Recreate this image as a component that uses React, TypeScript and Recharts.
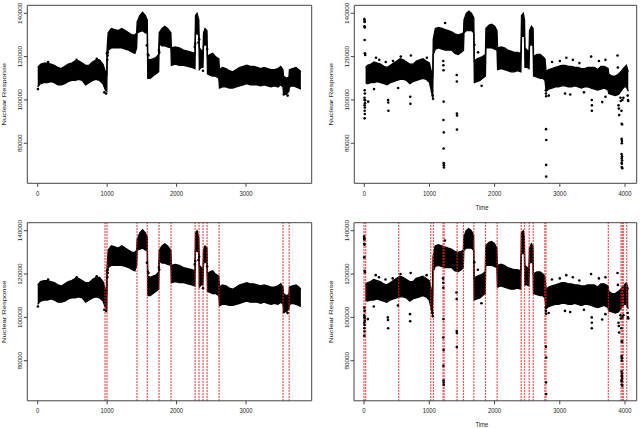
import React from 'react';
import { ComposedChart, Area, Scatter, XAxis, YAxis, ReferenceLine } from 'recharts';

// ---------- Left series (panels 1 and 3) ----------
const leftBandTime = [0, 40, 90, 140, 190, 240, 290, 340, 390, 440, 490, 540, 590, 640, 690, 740, 790, 840, 890, 940, 975, 995,
  1000, 1015, 1060, 1110, 1160, 1210, 1260, 1310, 1360, 1400, 1425,
  1432, 1470, 1510, 1550, 1578,
  1585, 1620, 1660, 1700, 1742,
  1750, 1790, 1830, 1870, 1918,
  1925, 1980, 2040, 2100, 2160, 2220, 2265,
  2272, 2295, 2320,
  2328, 2355, 2380,
  2388, 2410, 2438,
  2445, 2480, 2520, 2560, 2608,
  2618, 2660, 2710, 2760, 2810, 2860, 2910, 2960, 3010, 3060, 3110, 3160, 3210, 3260, 3310, 3360, 3410, 3460, 3500, 3532,
  3540, 3580, 3618,
  3625, 3670, 3720, 3760, 3790];
const leftBandLow = [106000, 107500, 108000, 108000, 108500, 108000, 107000, 107000, 107500, 108500, 109000, 109000, 109500, 109000, 107000, 108000, 109000, 109500, 109000, 107500, 104500, 104000,
  120000, 123000, 124000, 124000, 124000, 124000, 123500, 123000, 122000, 121500, 124000,
  131000, 131500, 132000, 131000, 131000,
  110000, 110000, 111000, 112000, 113000,
  126000, 125000, 125000, 124500, 124000,
  116000, 116500, 116000, 116000, 115500, 115000, 114500,
  131000, 130500, 130000,
  114000, 115000, 115000,
  125000, 125500, 125000,
  112000, 111500, 111000, 111000, 110000,
  105500, 106000, 106000, 105500, 105500, 106000, 106500, 107000, 107500, 107000, 107000, 107000, 106500, 107000, 106500, 106000, 106500, 106000, 107000, 106000,
  103000, 102500, 104000,
  106000, 106500, 106000, 105500, 105000];
const leftBandHigh = [115000, 116500, 117000, 117000, 116500, 116000, 115000, 114500, 115500, 116500, 117000, 118000, 118000, 117000, 116000, 116000, 117500, 118500, 118500, 116500, 113000, 111000,
  124000, 131000, 133000, 132500, 132000, 133000, 132000, 131000, 130000, 130000, 131000,
  136000, 139000, 140500, 139000, 137000,
  119000, 118500, 119000, 119500, 121000,
  131000, 133000, 134000, 133000, 131000,
  124000, 124500, 124000, 123000, 122500, 122000, 121500,
  139000, 140000, 137000,
  124000, 123000, 122000,
  131000, 133000, 132000,
  120000, 121000, 121500, 120000, 119000,
  114000, 115000, 114500, 113500, 113000, 114000, 115000, 115500, 116000, 115500, 115500, 115000, 114500, 115000, 114500, 114000, 114000, 114500, 115500, 114000,
  111000, 110000, 110500,
  114000, 114500, 115000, 114000, 113000];
const leftOutTime = [3, 960, 985, 998, 1002, 1006, 1008, 1572, 1588, 1595, 1745, 1750, 2262, 2268, 2315, 2325, 2380, 2440, 3545, 3600, 150, 560, 850];
const leftOutValue = [105000, 103500, 103000, 121500, 118500, 122000, 120500, 125200, 121000, 120500, 123000, 122000, 124500, 126000, 126500, 128000, 113500, 123500, 102500, 102000, 117500, 118500, 119000];
const leftChangepoints = [969, 998, 1430, 1578, 1747, 1920, 2268, 2323, 2382, 2440, 2612, 3533, 3622];
const leftXTicks = [0, 1000, 2000, 3000];
const leftXDomain: [number, number] = [-150, 3946];

// ---------- Right series (panels 2 and 4) ----------
const rightBandTime = [20, 50, 100, 150, 200, 250, 300, 350, 400, 450, 500, 550, 600, 650, 700, 750, 800, 850, 900, 950, 1000, 1030, 1050,
  1058, 1090, 1140, 1190, 1240, 1290, 1340, 1390, 1440, 1490, 1522,
  1530, 1565, 1605, 1645, 1680,
  1688, 1730, 1775, 1815, 1858,
  1866, 1910, 1955, 2000, 2036,
  2045, 2100, 2150, 2200, 2250, 2300, 2350, 2403,
  2412, 2440, 2458,
  2465, 2500, 2528,
  2535, 2565, 2590,
  2597, 2650, 2700, 2740, 2772,
  2790, 2830, 2880, 2930, 2980, 3030, 3080, 3130, 3180, 3230, 3280, 3330, 3380, 3430, 3480, 3530, 3580, 3630, 3680, 3740,
  3750, 3800, 3850, 3900, 3935,
  3960, 3990, 4020, 4050];
const rightBandLow = [108000, 107500, 108000, 108000, 108500, 108000, 107500, 107000, 108000, 108500, 109000, 109500, 109500, 109000, 107500, 108500, 109000, 109500, 110000, 109500, 108000, 104000, 101000,
  121000, 123500, 124000, 123500, 123000, 123000, 123000, 121500, 121000, 122000, 123000,
  131000, 132000, 132000, 132000, 131000,
  108000, 108500, 109000, 110000, 111000,
  124000, 124000, 124000, 123500, 123000,
  114000, 114500, 114000, 113500, 113000, 113000, 113500, 113000,
  129000, 130000, 129000,
  115000, 115000, 114500,
  125000, 125500, 125000,
  111000, 110500, 110000, 110000, 109000,
  104000, 105000, 105500, 106000, 106000, 106500, 106500, 106000, 106000, 106500, 106000, 105500, 106000, 106000, 105500, 105000, 104500, 105000, 105500, 104500,
  103000, 102500, 102000, 102500, 104000,
  105000, 106000, 106000, 104000];
const rightBandHigh = [115000, 116000, 116500, 117500, 117000, 116500, 115500, 115000, 116000, 117000, 118000, 119000, 118500, 117500, 116500, 116500, 118000, 118500, 119000, 118000, 117000, 113000, 110000,
  128000, 133000, 133500, 133000, 132500, 132000, 131500, 130500, 130000, 130500, 131000,
  137000, 140000, 141000, 140000, 138000,
  118000, 119000, 119500, 120000, 121000,
  133000, 134500, 135000, 134000, 132000,
  124000, 124500, 124000, 123000, 122500, 122000, 122000, 121500,
  139000, 140000, 137000,
  124000, 123000, 122000,
  132000, 134000, 133000,
  120000, 121000, 121000, 120000, 119000,
  113000, 114000, 114500, 115000, 115500, 116000, 116000, 115500, 115500, 115000, 115000, 114500, 114500, 115000, 115000, 115000, 114000, 115500, 115500, 114500,
  112000, 111000, 111000, 112000, 113000,
  114000, 115000, 116000, 113000];
const rightOutTime = [2, 4, 6, 3, 8, 5, 10, 14, 6, 9, 4, 7, 11, 5, 9, 6, 8, 5, 12, 60,
  180, 230, 330, 440, 560, 715, 960, 150, 365, 368, 370, 520, 705, 708,
  1040, 1050, 1055,
  1212, 1214, 1216, 1218, 1215, 1220, 1217, 1219, 1221, 1222, 1240,
  1418, 1420, 1421, 1423, 1422,
  1690, 1745, 1800,
  2785, 2787, 2790, 2788, 2792, 2790, 2791,
  2880, 3000, 3100, 3200, 3300, 3480, 3600, 3700, 3885,
  2830, 3080, 3160, 3370, 3650, 3700,
  3490, 3492, 3491,
  3890, 3900, 3905, 3910, 3930, 3935, 3945, 3950, 3955, 3948, 3952, 3950, 3947, 3953, 3950, 3955, 3948, 3952, 3950, 3958, 3960, 3975, 3990,
  4040, 4045, 4050];
const rightOutValue = [137300, 136500, 136000, 134000, 133500, 127700, 121500, 120800, 104500, 103000, 101000, 100000, 98500, 97500, 96500, 95000, 93500, 91500, 99800, 99200,
  119500, 118500, 117500, 118000, 120000, 120500, 119500, 105000, 100000, 98800, 95000, 105500, 101500, 98200,
  104000, 102000, 100500,
  118000, 116000, 113700, 99200, 90700, 85000, 77600, 70800, 69800, 68800, 135500,
  111500, 108500, 93700, 92800, 86300,
  125500, 122000, 106500,
  104500, 103000, 101700, 86500, 81500, 70000, 64600,
  117500, 118000, 119500, 118500, 117000, 120000, 118000, 118500, 120500,
  102000, 103000, 102500, 103500, 99000, 101500,
  100000, 97500, 95000,
  115000, 97500, 96000, 93000, 101000, 99500, 95000, 89000, 88700, 82000, 81000, 80000, 75000, 74000, 73000, 72000, 71000, 70500, 69000, 68500, 100000, 101000, 112000,
  102000, 100000, 99500];
const rightChangepoints = [0, 26, 532, 1023, 1064, 1212, 1228, 1427, 1524, 1683, 1862, 2041, 2409, 2460, 2532, 2593, 2772, 2788, 3744, 3939, 3959, 3974, 4026];
const rightXTicks = [0, 1000, 2000, 3000, 4000];
const rightXDomain: [number, number] = [-153, 4179];

// ---------- Shared y axis ----------
const yTicks = [80000, 100000, 120000, 140000];
const yDomain: [number, number] = [61500, 143700];

const FONT = "'Liberation Sans', Arial, Helvetica, sans-serif";
const AXIS = '#444';
const TEXT = '#222';

const XTick = (props: any) => {
  const { x, y, payload } = props;
  return (
    <g transform={`translate(${x},${y + 4.3}) scale(0.74,1)`}>
      <text textAnchor="middle" dominantBaseline="central" fontSize={8} fill={TEXT} fontFamily={FONT}>
        {payload.value}
      </text>
    </g>
  );
};

const YTick = (props: any) => {
  const { x, y, payload } = props;
  return (
    <g transform={`translate(${x - 1.1},${y}) scale(0.8,1) rotate(-90)`}>
      <text textAnchor="middle" dominantBaseline="central" fontSize={6.4} fill={TEXT} fontFamily={FONT}>
        {payload.value}
      </text>
    </g>
  );
};

const YLabel = (props: any) => {
  const vb = props.viewBox || {};
  const cx = vb.x + vb.width - 23.3;
  const cy = vb.y + vb.height / 2;
  return (
    <g transform={`translate(${cx},${cy}) scale(0.74,1) rotate(-90)`}>
      <text textAnchor="middle" dominantBaseline="central" fontSize={7.6} fill={TEXT} fontFamily={FONT}>
        Nuclear Response
      </text>
    </g>
  );
};

const TimeLabel = (props: any) => {
  const vb = props.viewBox || {};
  const cx = vb.x + vb.width / 2 - 13.5;
  const cy = vb.y + 23.8;
  return (
    <g transform={`translate(${cx},${cy}) scale(0.74,1)`}>
      <text textAnchor="middle" dominantBaseline="central" fontSize={8} fill={TEXT} fontFamily={FONT}>
        Time
      </text>
    </g>
  );
};

const Dot = (props: any) => <circle cx={props.cx} cy={props.cy} r={1.3} fill="#000" />;

type PanelProps = {
  left: number;
  top: number;
  margin: { top: number; right: number; bottom: number; left: number };
  bandT: number[];
  bandLow: number[];
  bandHigh: number[];
  outT: number[];
  outV: number[];
  xDomain: [number, number];
  xTicks: number[];
  cps: number[];
  showTime: boolean;
};

// plot edges given in margin; axes take 1px each so margins are reduced by 1
function Panel(p: PanelProps) {
  const band = p.bandT.map((t, i) => ({ t, range: [p.bandLow[i], p.bandHigh[i]] }));
  const pts = p.outT.map((t, i) => ({ t, v: p.outV[i] }));
  const m = {
    top: p.margin.top - 1,
    right: p.margin.right - 1,
    bottom: p.margin.bottom - 1,
    left: p.margin.left - 1,
  };
  return (
    <div style={{ position: 'absolute', left: p.left, top: p.top }}>
      <ComposedChart width={320} height={214} margin={m}>
        <XAxis
          dataKey="t"
          type="number"
          domain={p.xDomain}
          ticks={p.xTicks}
          interval={0}
          allowDataOverflow
          height={1}
          tickSize={3.5}
          tickMargin={2}
          tick={<XTick />}
          axisLine={{ stroke: AXIS }}
          tickLine={{ stroke: AXIS }}
          label={p.showTime ? { content: TimeLabel } : undefined}
        />
        <XAxis
          xAxisId="top"
          orientation="top"
          type="number"
          domain={p.xDomain}
          allowDataOverflow
          height={1}
          tick={false}
          tickLine={false}
          axisLine={{ stroke: AXIS }}
        />
        <YAxis
          type="number"
          domain={yDomain}
          ticks={yTicks}
          interval={0}
          allowDataOverflow
          width={1}
          tickSize={3.5}
          tickMargin={2}
          tick={<YTick />}
          axisLine={{ stroke: AXIS }}
          tickLine={{ stroke: AXIS }}
          label={{ content: YLabel }}
        />
        <YAxis
          yAxisId="right"
          orientation="right"
          type="number"
          domain={yDomain}
          allowDataOverflow
          width={1}
          tick={false}
          tickLine={false}
          axisLine={{ stroke: AXIS }}
        />
        <Area
          data={band}
          dataKey="range"
          type="linear"
          fill="#000"
          fillOpacity={1}
          stroke="#000"
          strokeWidth={1.3}
          dot={false}
          activeDot={false}
          isAnimationActive={false}
        />
        <Scatter data={pts} dataKey="v" shape={Dot} isAnimationActive={false} />
        {p.cps.map((c, i) => (
          <ReferenceLine key={i} x={c} stroke="#ff1a1a" strokeDasharray="1.5 1.5" strokeWidth={1.2} />
        ))}
      </ComposedChart>
    </div>
  );
}

export default function App() {
  return (
    <div style={{ position: 'absolute', left: 0, top: 0, width: 640, height: 428, background: '#fff', overflow: 'hidden' }}>
      <Panel
        left={0}
        top={0}
        margin={{ top: 5.3, right: 8.3, bottom: 30.7, left: 27.3 }}
        bandT={leftBandTime}
        bandLow={leftBandLow}
        bandHigh={leftBandHigh}
        outT={leftOutTime}
        outV={leftOutValue}
        xDomain={leftXDomain}
        xTicks={leftXTicks}
        cps={[]}
        showTime={false}
      />
      <Panel
        left={320}
        top={0}
        margin={{ top: 5.3, right: 3.3, bottom: 30.7, left: 34.3 }}
        bandT={rightBandTime}
        bandLow={rightBandLow}
        bandHigh={rightBandHigh}
        outT={rightOutTime}
        outV={rightOutValue}
        xDomain={rightXDomain}
        xTicks={rightXTicks}
        cps={[]}
        showTime={true}
      />
      <Panel
        left={0}
        top={214}
        margin={{ top: 8.7, right: 8.3, bottom: 27.2, left: 27.3 }}
        bandT={leftBandTime}
        bandLow={leftBandLow}
        bandHigh={leftBandHigh}
        outT={leftOutTime}
        outV={leftOutValue}
        xDomain={leftXDomain}
        xTicks={leftXTicks}
        cps={leftChangepoints}
        showTime={false}
      />
      <Panel
        left={320}
        top={214}
        margin={{ top: 8.7, right: 3.3, bottom: 27.2, left: 34 }}
        bandT={rightBandTime}
        bandLow={rightBandLow}
        bandHigh={rightBandHigh}
        outT={rightOutTime}
        outV={rightOutValue}
        xDomain={rightXDomain}
        xTicks={rightXTicks}
        cps={rightChangepoints}
        showTime={true}
      />
    </div>
  );
}
